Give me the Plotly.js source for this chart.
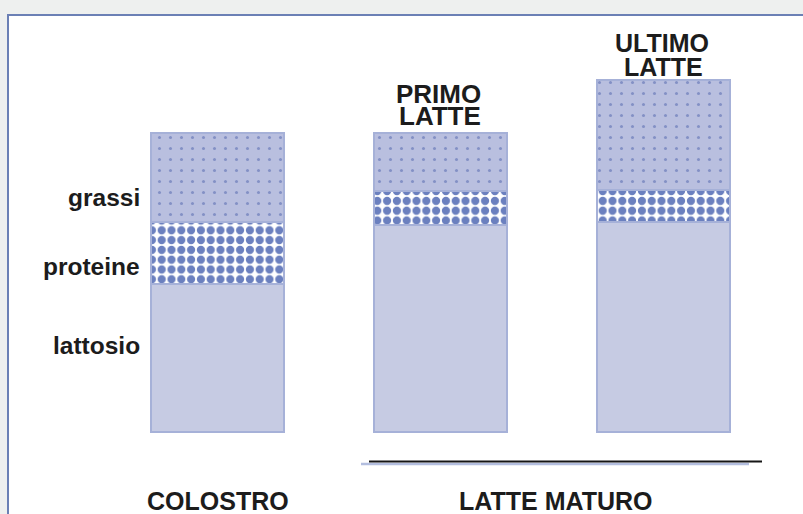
<!DOCTYPE html>
<html>
<head>
<meta charset="utf-8">
<script src="https://cdn.plot.ly/plotly-3.0.1.min.js"></script>
<style>html,body{margin:0;padding:0;background:#eef0ef;}#chart{width:803px;height:514px;}</style>
</head>
<body>
<div id="chart"></div>
<script>
// Data (relative heights of each layer)
var categories = ["COLOSTRO", "PRIMO LATTE", "ULTIMO LATTE"];
var lattosio = [148, 207, 210];
var proteine = [62, 34, 32];
var grassi = [89, 58, 110];
var layerLabels = ["grassi", "proteine", "lattosio"];
var groupLabel = "LATTE MATURO";

var W = 803, H = 514;
// pixel <-> data helpers (axis ranges fixed below)
var xr = [-217.5 / 223, (W - 217.5) / 223];
var yr = [-82, 432];
function px(x) { return xr[0] + x / W * (xr[1] - xr[0]); }
function py(y) { return yr[1] - y / H * (yr[1] - yr[0]); }

var xs = categories.map(function (c, i) { return i; });
var FONT = "Liberation Sans, Arial, Helvetica, sans-serif";
var lineCol = "#a6b1d8";
var bw = 0.596;

var traces = [
  {
    type: "bar", x: xs, y: lattosio, width: bw, name: "lattosio",
    marker: { color: "#c6cbe3", line: { color: lineCol, width: 1.5 } },
    hoverinfo: "skip"
  },
  {
    type: "bar", x: xs, y: proteine, width: bw, name: "proteine",
    marker: {
      color: "#ffffff", line: { color: lineCol, width: 1.5 },
      pattern: { shape: ".", bgcolor: "#ffffff", fgcolor: "#6b80bf", size: 9.8, solidity: 0.55, fillmode: "replace" }
    },
    hoverinfo: "skip"
  },
  {
    type: "bar", x: xs, y: grassi, width: bw, name: "grassi",
    marker: {
      color: "#b9bfdf", line: { color: lineCol, width: 1.5 },
      pattern: { shape: ".", bgcolor: "#b9bfdf", fgcolor: "#8390c5", size: 11, solidity: 0.06, fillmode: "replace" }
    },
    hoverinfo: "skip"
  }
];

function f(sz) { return { family: FONT, size: sz, color: "#1c1c1c", weight: 700 }; }

function ann(text, x, y, xanchor, font) {
  return { text: text, x: x, y: y, xref: "x", yref: "y", xanchor: xanchor, yanchor: "middle",
           showarrow: false, font: font };
}

var annotations = [
  ann(categories[0], 0, py(501), "center", f(25)),
  ann(groupLabel, px(555), py(501), "center", f(25)),
  ann("PRIMO", px(483), py(94), "right", f(26)),
  ann("LATTE", px(483), py(116), "right", f(26)),
  ann("ULTIMO", px(662), py(43), "center", f(25)),
  ann("LATTE", px(663), py(67), "center", f(25)),
  ann(layerLabels[0], px(142), py(197), "right", f(24.5)),
  ann(layerLabels[1], px(142), py(266), "right", f(24.5)),
  ann(layerLabels[2], px(142), py(345), "right", f(24.5))
];

var shapes = [
  { type: "rect", xref: "paper", yref: "paper", x0: 8 / W, x1: 1.2, y0: -0.2, y1: 1 - 15 / H,
    fillcolor: "#ffffff", line: { color: "#6b80b5", width: 2 }, layer: "below" },
  { type: "line", xref: "x", yref: "y", x0: px(361), x1: px(749), y0: py(464), y1: py(464),
    line: { color: "#b3bedf", width: 2.5 } },
  { type: "line", xref: "x", yref: "y", x0: px(369), x1: px(762), y0: py(461.5), y1: py(461.5),
    line: { color: "#161616", width: 2.2 } }
];

var layout = {
  width: W, height: H,
  margin: { l: 0, r: 0, t: 0, b: 0 },
  paper_bgcolor: "#eef0ef",
  plot_bgcolor: "rgba(0,0,0,0)",
  barmode: "stack",
  showlegend: false,
  xaxis: { range: xr, visible: false, fixedrange: true },
  yaxis: { range: yr, visible: false, fixedrange: true },
  annotations: annotations,
  shapes: shapes
};

Plotly.newPlot("chart", traces, layout, { displayModeBar: false, staticPlot: true });
</script>
</body>
</html>
